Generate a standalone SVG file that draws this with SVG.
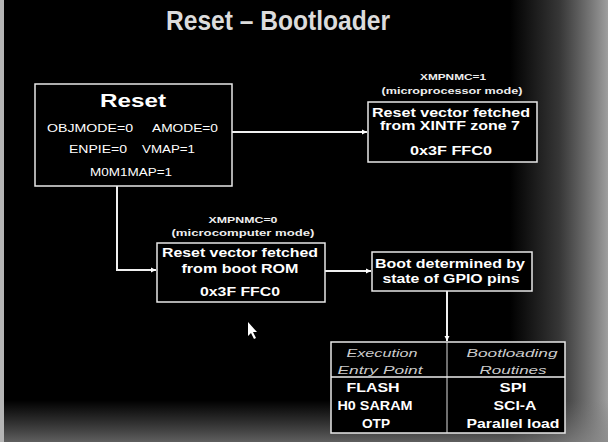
<svg xmlns="http://www.w3.org/2000/svg" width="608" height="442" viewBox="0 0 608 442">
<defs>
<linearGradient id="gr" x1="0" y1="0" x2="1" y2="0">
<stop offset="0" stop-color="#9a9a9a" stop-opacity="0"/>
<stop offset="0.5" stop-color="#9a9a9a" stop-opacity="0.35"/>
<stop offset="1" stop-color="#b0b0b0" stop-opacity="0.9"/>
</linearGradient>
<linearGradient id="gb" x1="0" y1="0" x2="0" y2="1">
<stop offset="0" stop-color="#777" stop-opacity="0"/>
<stop offset="1" stop-color="#888" stop-opacity="0.7"/>
</linearGradient>
<marker id="ah" markerWidth="6" markerHeight="6" refX="5" refY="3" orient="auto" markerUnits="userSpaceOnUse">
<path d="M0,0.5 L5,3 L0,5.5 Z" fill="#fff"/>
</marker>
<style>
text{font-family:"Liberation Sans",Arial,sans-serif;fill:#fff}
.b{font-weight:bold;font-size:12.5px}
.s{font-size:9px;font-weight:bold;fill:#eee}
.r{font-size:11.5px}
.h{font-style:italic;font-size:11.5px;fill:#ccc}
.box{fill:#000;stroke:#e8e8e8;stroke-width:1.5}
.c{fill:none;stroke:#f0f0f0;stroke-width:2}
</style>
</defs>
<rect width="608" height="442" fill="#000"/>
<rect x="510" y="0" width="98" height="442" fill="url(#gr)"/>
<rect x="0" y="400" width="608" height="42" fill="url(#gb)"/>
<rect x="0" y="0" width="4" height="442" fill="#b5b5b5"/>
<text x="278" y="30" text-anchor="middle" font-size="27" font-weight="bold" style="fill:#dcdcdc" textLength="224" lengthAdjust="spacingAndGlyphs">Reset – Bootloader</text>

<g id="connectors">
<line class="c" x1="232" y1="132" x2="367" y2="132" marker-end="url(#ah)"/>
<path class="c" d="M117,186 V270 H156" marker-end="url(#ah)"/>
<line class="c" x1="325" y1="271" x2="371" y2="271" marker-end="url(#ah)"/>
<line class="c" x1="447" y1="291" x2="447" y2="341" marker-end="url(#ah)"/>
</g>

<g id="reset">
<rect class="box" x="35" y="84" width="197" height="102"/>
<text x="133" y="107" text-anchor="middle" font-weight="bold" font-size="18" textLength="66" lengthAdjust="spacingAndGlyphs">Reset</text>
<text class="r" x="47" y="132" textLength="86" lengthAdjust="spacingAndGlyphs">OBJMODE=0</text>
<text class="r" x="152" y="132" textLength="66" lengthAdjust="spacingAndGlyphs">AMODE=0</text>
<text class="r" x="69" y="153" textLength="58" lengthAdjust="spacingAndGlyphs">ENPIE=0</text>
<text class="r" x="142" y="153" textLength="53" lengthAdjust="spacingAndGlyphs">VMAP=1</text>
<text class="r" x="90" y="176" textLength="82" lengthAdjust="spacingAndGlyphs">M0M1MAP=1</text>
</g>

<g id="xintf">
<text class="s" x="453" y="80" text-anchor="middle" textLength="66" lengthAdjust="spacingAndGlyphs">XMPNMC=1</text>
<text class="s" x="452" y="94" text-anchor="middle" textLength="141" lengthAdjust="spacingAndGlyphs">(microprocessor mode)</text>
<rect class="box" x="368" y="102" width="169" height="60"/>
<text class="b" x="451" y="117" text-anchor="middle" textLength="158" lengthAdjust="spacingAndGlyphs">Reset vector fetched</text>
<text class="b" x="450" y="130" text-anchor="middle" textLength="140" lengthAdjust="spacingAndGlyphs">from XINTF zone 7</text>
<text class="b" x="451" y="155" text-anchor="middle" textLength="82" lengthAdjust="spacingAndGlyphs">0x3F FFC0</text>
</g>

<g id="bootrom">
<text class="s" x="243" y="223" text-anchor="middle" textLength="69" lengthAdjust="spacingAndGlyphs">XMPNMC=0</text>
<text class="s" x="243" y="236" text-anchor="middle" textLength="143" lengthAdjust="spacingAndGlyphs">(microcomputer mode)</text>
<rect class="box" x="157" y="243" width="168" height="59"/>
<text class="b" x="240" y="257" text-anchor="middle" textLength="156" lengthAdjust="spacingAndGlyphs">Reset vector fetched</text>
<text class="b" x="240" y="273" text-anchor="middle" textLength="117" lengthAdjust="spacingAndGlyphs">from boot ROM</text>
<text class="b" x="240" y="296" text-anchor="middle" textLength="80" lengthAdjust="spacingAndGlyphs">0x3F FFC0</text>
</g>

<g id="gpio">
<rect class="box" x="372" y="252" width="160" height="39"/>
<text class="b" x="450" y="268" text-anchor="middle" textLength="150" lengthAdjust="spacingAndGlyphs">Boot determined by</text>
<text class="b" x="451" y="283" text-anchor="middle" textLength="137" lengthAdjust="spacingAndGlyphs">state of GPIO pins</text>
</g>

<g id="table">
<rect class="box" x="331" y="342" width="234" height="91"/>
<line x1="447" y1="342" x2="447" y2="433" stroke="#ddd" stroke-width="1"/>
<line x1="331" y1="377" x2="565" y2="377" stroke="#eee" stroke-width="1.5"/>
<text class="h" x="382" y="357" text-anchor="middle" textLength="71" lengthAdjust="spacingAndGlyphs">Execution</text>
<text class="h" x="380" y="374" text-anchor="middle" textLength="85" lengthAdjust="spacingAndGlyphs">Entry Point</text>
<text class="h" x="512" y="357" text-anchor="middle" textLength="91" lengthAdjust="spacingAndGlyphs">Bootloading</text>
<text class="h" x="513" y="374" text-anchor="middle" textLength="67" lengthAdjust="spacingAndGlyphs">Routines</text>
<text class="b" x="373" y="392" text-anchor="middle" textLength="53" lengthAdjust="spacingAndGlyphs">FLASH</text>
<text class="b" x="375" y="410" text-anchor="middle" textLength="75" lengthAdjust="spacingAndGlyphs">H0 SARAM</text>
<text class="b" x="376" y="428" text-anchor="middle" textLength="28" lengthAdjust="spacingAndGlyphs">OTP</text>
<text class="b" x="513" y="392" text-anchor="middle" textLength="27" lengthAdjust="spacingAndGlyphs">SPI</text>
<text class="b" x="515" y="410" text-anchor="middle" textLength="43" lengthAdjust="spacingAndGlyphs">SCI-A</text>
<text class="b" x="513" y="428" text-anchor="middle" textLength="93" lengthAdjust="spacingAndGlyphs">Parallel load</text>
</g>

<polygon points="248,322 248,336 251,333 254,339 256,338 253,332 257,332" fill="#fff"/>
</svg>
